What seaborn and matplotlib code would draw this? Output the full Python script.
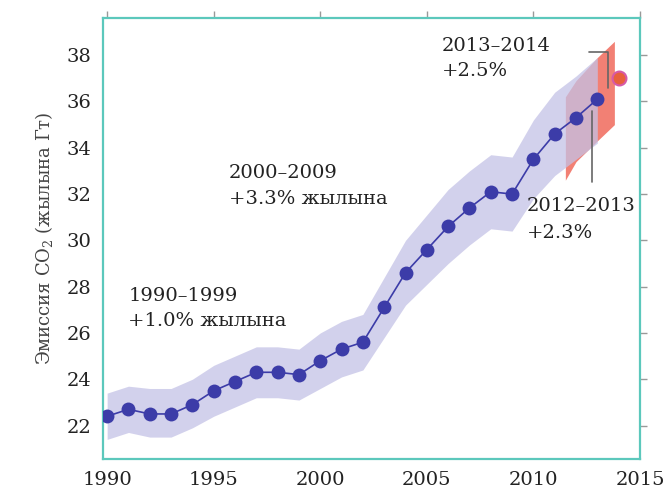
import matplotlib
matplotlib.use("Agg")
import matplotlib.pyplot as plt
import seaborn as sns
import pandas as pd

# CO2 emissions, Gt per year
years = list(range(1990, 2014))
emissions = [22.4, 22.7, 22.5, 22.5, 22.9, 23.5, 23.9, 24.3, 24.3, 24.2,
             24.8, 25.3, 25.6, 27.1, 28.6, 29.6, 30.6, 31.4, 32.1, 32.0,
             33.5, 34.6, 35.3, 36.1]
band_low = [21.4, 21.7, 21.5, 21.5, 21.9, 22.4, 22.8, 23.2, 23.2, 23.1,
            23.6, 24.1, 24.4, 25.8, 27.2, 28.1, 29.0, 29.8, 30.5, 30.4,
            31.8, 32.8, 33.5, 34.2]
band_high = [23.4, 23.7, 23.6, 23.6, 24.0, 24.6, 25.0, 25.4, 25.4, 25.3,
             26.0, 26.5, 26.8, 28.4, 30.0, 31.1, 32.2, 33.0, 33.7, 33.6,
             35.2, 36.4, 37.1, 37.9]

# 2014 projection and its range
proj_year = [2014]
proj_value = [37.0]
proj_x = [2011.5, 2012.0, 2013.0, 2013.8]
proj_low = [32.6, 33.4, 34.3, 35.0]
proj_high = [36.2, 36.9, 37.9, 38.6]

df = pd.DataFrame({"year": years, "emissions": emissions})

sns.set_theme(style="white")
plt.rcParams["font.family"] = ["DejaVu Serif", "DejaVu Sans"]
plt.rcParams["mathtext.fontset"] = "dejavuserif"

fig = plt.figure(figsize=(6.68, 4.91), dpi=100)
ax = fig.add_axes([0.154, 0.065, 0.804, 0.898])

# red projection range sits under the lavender band so the overlap looks pinkish
ax.fill_between(proj_x, proj_low, proj_high, color="#f06a5c", alpha=0.85, linewidth=0, zorder=1)
ax.fill_between(years, band_low, band_high, color="#c4c2e6", alpha=0.75, linewidth=0, zorder=2)

sns.lineplot(data=df, x="year", y="emissions", ax=ax, color="#3c3ca8",
             linewidth=1.2, marker="o", markersize=10, markeredgewidth=0, zorder=4)
ax.plot(proj_year, proj_value, marker="o", markersize=10, color="#e8603c",
        markeredgecolor="#d65aa8", markeredgewidth=1.5, zorder=5)

# annotation leader lines
ax.plot([2012.6, 2013.5, 2013.5], [38.15, 38.15, 36.6], color="#666666", linewidth=1.2, zorder=3)
ax.plot([2012.75, 2012.75], [35.6, 32.5], color="#666666", linewidth=1.2, zorder=3)

txt = dict(fontsize=14, color="#222222", va="center", ha="left")
ax.text(2005.7, 38.4, "2013–2014", **txt)
ax.text(2005.7, 37.3, "+2.5%", **txt)
ax.text(1995.7, 32.9, "2000–2009", **txt)
ax.text(1995.7, 31.8, "+3.3% жылына", **txt)
ax.text(1991.0, 27.6, "1990–1999", **txt)
ax.text(1991.0, 26.5, "+1.0% жылына", **txt)
ax.text(2009.7, 31.5, "2012–2013", **txt)
ax.text(2009.7, 30.3, "+2.3%", **txt)

ax.set_xlim(1989.8, 2015.0)
ax.set_ylim(20.55, 39.6)
ax.set_xticks([1990, 1995, 2000, 2005, 2010, 2015])
ax.set_yticks([22, 24, 26, 28, 30, 32, 34, 36, 38])
ax.set_xlabel("")
ax.set_ylabel("Эмиссия CO$_2$ (жылына Гт)", fontsize=13, color="#444444", labelpad=8)

for s in ax.spines.values():
    s.set_color("#5cc8bc")
    s.set_linewidth(1.6)
ax.tick_params(axis="both", which="both", direction="out", length=5, width=1,
               color="#999999", labelsize=14, labelcolor="#222222",
               top=True, right=True, labeltop=False, labelright=False)

fig.savefig("out.png", dpi=100)
